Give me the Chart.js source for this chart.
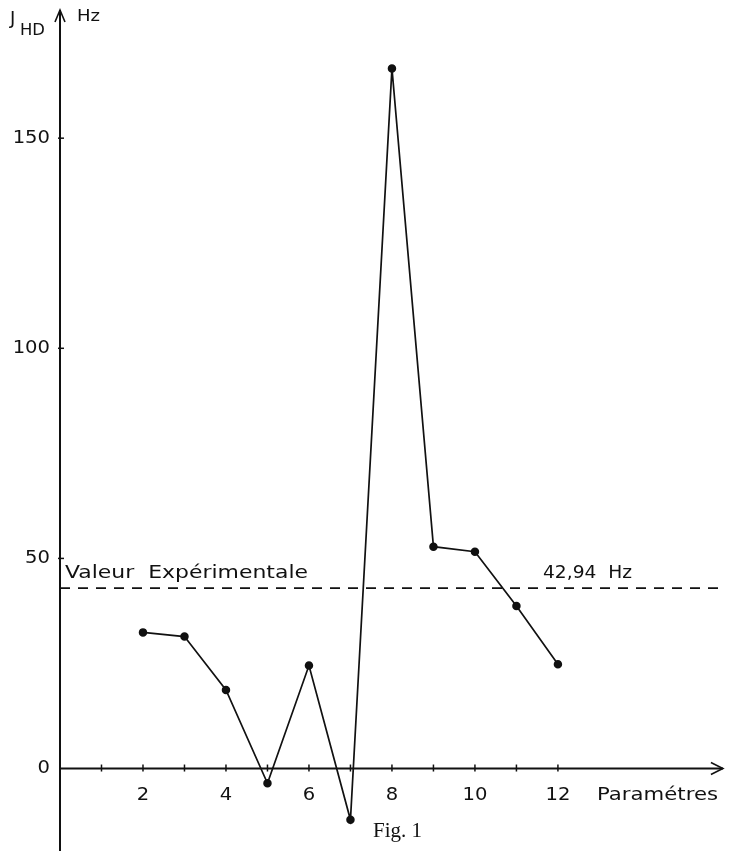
<!DOCTYPE html>
<html>
<head>
<meta charset="utf-8">
<script src="https://cdn.jsdelivr.net/npm/chart.js@4"></script>
<style>
  html, body { margin: 0; padding: 0; background: #fff; overflow: hidden; }
  #wrap { width: 729px; height: 856px; position: relative; }
  canvas { display: block; }
</style>
</head>
<body>
<div id="wrap"><canvas id="figChart"></canvas></div>
<script>
// data
const params = [2, 3, 4, 5, 6, 7, 8, 9, 10, 11, 12];
const jhd = [32.4, 31.4, 18.7, -3.5, 24.5, -12.2, 166.6, 52.8, 51.6, 38.7, 24.8];
const expValue = 42.94;
const xTicks = [2, 4, 6, 8, 10, 12];
const yTicks = [0, 50, 100, 150];

const ink = "#111";
const font = "'DejaVu Sans', sans-serif";

// draw text stretched horizontally to a given width
function wideText(ctx, txt, x, y, width) {
  const w = ctx.measureText(txt).width;
  ctx.save();
  ctx.translate(x, y);
  ctx.scale(width / w, 1);
  ctx.fillText(txt, 0, 0);
  ctx.restore();
}

const axesPlugin = {
  id: "axes",
  afterDatasetsDraw(chart) {
    const { ctx, chartArea, scales } = chart;
    const x = scales.x, y = scales.y;
    const x0 = x.getPixelForValue(0);
    const y0 = y.getPixelForValue(0);
    ctx.save();
    ctx.strokeStyle = ink;
    ctx.fillStyle = ink;
    ctx.lineWidth = 2;

    // vertical axis with arrow
    ctx.beginPath();
    ctx.moveTo(x0, chartArea.bottom);
    ctx.lineTo(x0, chartArea.top);
    ctx.stroke();
    ctx.lineWidth = 1.6;
    ctx.beginPath();
    ctx.moveTo(x0 - 5, chartArea.top + 12);
    ctx.lineTo(x0, chartArea.top);
    ctx.lineTo(x0 + 5, chartArea.top + 12);
    ctx.stroke();

    // horizontal axis with arrow
    ctx.lineWidth = 2;
    ctx.beginPath();
    ctx.moveTo(x0, y0);
    ctx.lineTo(chartArea.right - 1, y0);
    ctx.stroke();
    ctx.lineWidth = 1.6;
    ctx.beginPath();
    ctx.moveTo(chartArea.right - 13, y0 - 6);
    ctx.lineTo(chartArea.right - 1, y0);
    ctx.lineTo(chartArea.right - 13, y0 + 6);
    ctx.stroke();

    // x ticks every unit
    ctx.lineWidth = 1.5;
    for (let i = 1; i <= 12; i++) {
      const px = x.getPixelForValue(i);
      ctx.beginPath();
      ctx.moveTo(px, y0 - 4);
      ctx.lineTo(px, y0 + 3);
      ctx.stroke();
    }
    // y ticks
    yTicks.forEach(v => {
      if (v === 0) return;
      const py = y.getPixelForValue(v);
      ctx.beginPath();
      ctx.moveTo(x0 - 2, py);
      ctx.lineTo(x0 + 4, py);
      ctx.stroke();
    });

    ctx.font = "17px " + font;
    ctx.textBaseline = "middle";
    ctx.textAlign = "left";
    xTicks.forEach(v => {
      const t = String(v);
      const w = ctx.measureText(t).width * 1.15;
      wideText(ctx, t, x.getPixelForValue(v) - w / 2, y0 + 27, w);
    });
    yTicks.forEach(v => {
      const t = String(v);
      const w = ctx.measureText(t).width * 1.15;
      wideText(ctx, t, x0 - 10 - w, y.getPixelForValue(v), w);
    });

    const yl = y.getPixelForValue(expValue) - 15;
    wideText(ctx, "Paramétres", 597, y0 + 27, 121);
    wideText(ctx, "Valeur  Expérimentale", 65, yl, 243);
    wideText(ctx, "42,94  Hz", 543, yl, 89);

    // axis name J_HD and unit
    ctx.font = "18px " + font;
    ctx.fillText("J", 10, 19);
    ctx.font = "15px " + font;
    wideText(ctx, "HD", 20, 31, 25);
    wideText(ctx, "Hz", 77, 17, 23);

    ctx.font = "21px 'Liberation Serif', serif";
    ctx.fillText("Fig. 1", 373, 831);
    ctx.restore();
  }
};

new Chart(document.getElementById("figChart"), {
  type: "scatter",
  data: {
    datasets: [
      {
        data: params.map((p, i) => ({ x: p, y: jhd[i] })),
        showLine: true,
        borderColor: ink,
        backgroundColor: ink,
        borderWidth: 1.7,
        pointRadius: 3.4,
        pointHoverRadius: 3.4
      },
      {
        data: [{ x: 0, y: expValue }, { x: 16, y: expValue }],
        showLine: true,
        borderColor: ink,
        borderWidth: 1.6,
        borderDash: [10, 8],
        pointRadius: 0
      }
    ]
  },
  options: {
    responsive: true,
    maintainAspectRatio: false,
    animation: false,
    layout: { padding: { left: 60, right: 0, top: 10, bottom: 0 } },
    plugins: {
      legend: { display: false },
      tooltip: { enabled: false }
    },
    scales: {
      x: { type: "linear", min: 0, max: 16, display: false },
      y: { type: "linear", min: -19.6, max: 180.5, display: false }
    }
  },
  plugins: [axesPlugin]
});
</script>
</body>
</html>
